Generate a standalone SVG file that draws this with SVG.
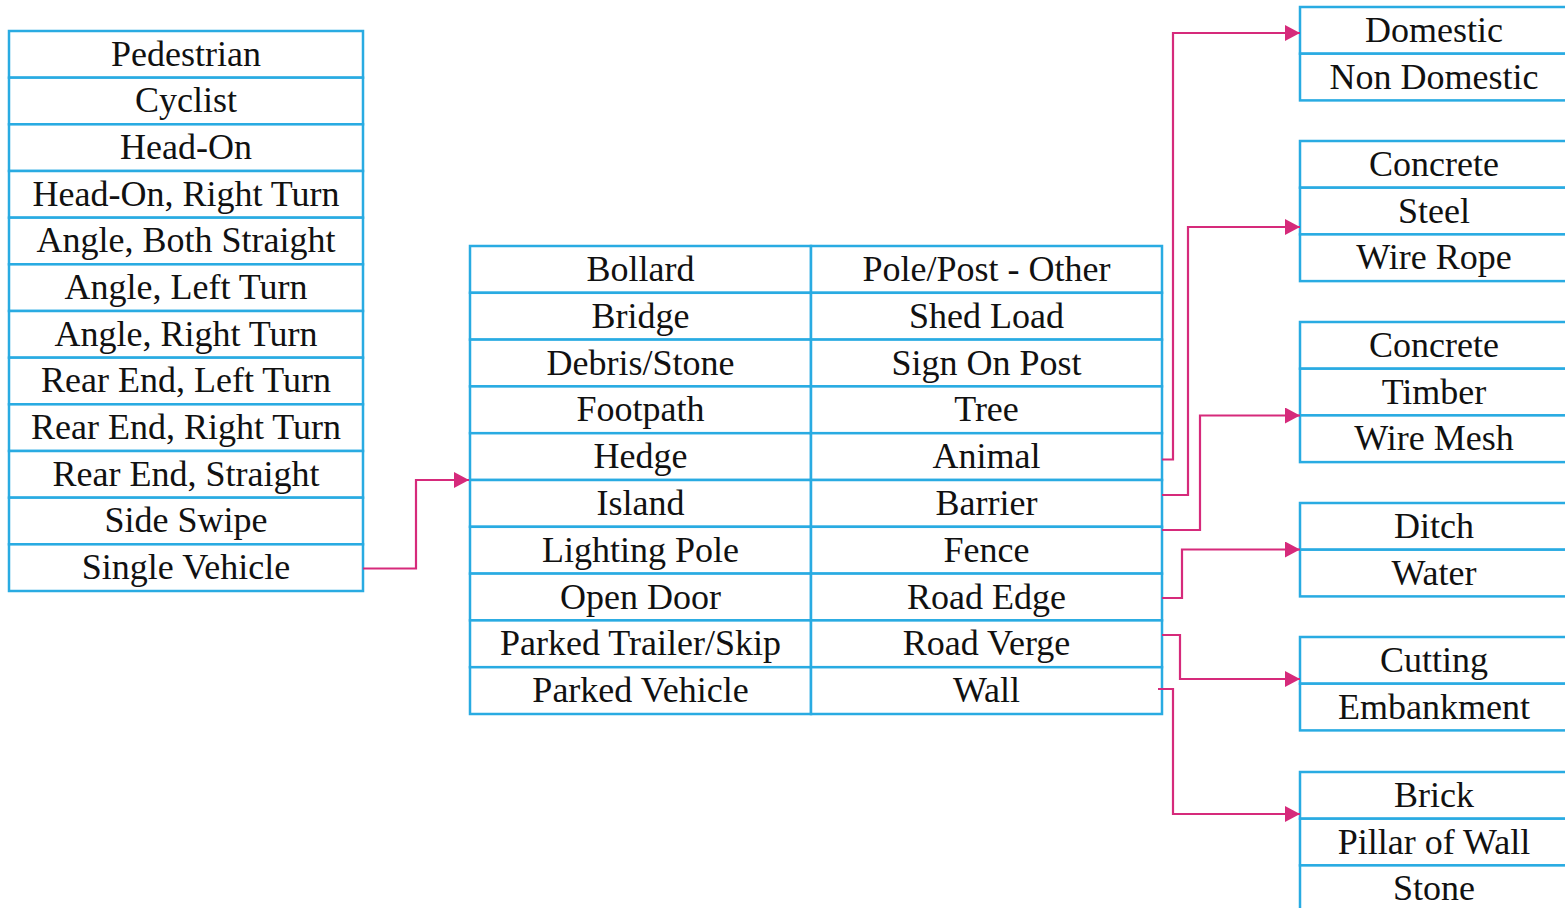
<svg xmlns="http://www.w3.org/2000/svg" width="1565" height="908" viewBox="0 0 1565 908" font-family="Liberation Serif, Times New Roman, Times, serif">
<style>
.c{fill:#fff;stroke:#29ABE2;stroke-width:2.5}
.t{font-size:36px;fill:#111;text-anchor:middle}
.e{fill:none;stroke:#D62A7B;stroke-width:2.2}
</style>
<defs>
<marker id="ah" markerUnits="userSpaceOnUse" markerWidth="16" markerHeight="16" refX="15" refY="8" orient="auto">
<path d="M0,0 L15,8 L0,16 z" fill="#D62A7B"/>
</marker>
</defs>
<g id="left-table">
<rect class="c" x="9" y="31" width="354" height="46.67"/>
<rect class="c" x="9" y="77.67" width="354" height="46.67"/>
<rect class="c" x="9" y="124.33" width="354" height="46.67"/>
<rect class="c" x="9" y="171" width="354" height="46.67"/>
<rect class="c" x="9" y="217.67" width="354" height="46.67"/>
<rect class="c" x="9" y="264.33" width="354" height="46.67"/>
<rect class="c" x="9" y="311" width="354" height="46.67"/>
<rect class="c" x="9" y="357.67" width="354" height="46.67"/>
<rect class="c" x="9" y="404.33" width="354" height="46.67"/>
<rect class="c" x="9" y="451" width="354" height="46.67"/>
<rect class="c" x="9" y="497.67" width="354" height="46.67"/>
<rect class="c" x="9" y="544.33" width="354" height="46.67"/>
<text class="t" x="186" y="65.5">Pedestrian</text>
<text class="t" x="186" y="112.2">Cyclist</text>
<text class="t" x="186" y="158.8">Head-On</text>
<text class="t" x="186" y="205.5">Head-On, Right Turn</text>
<text class="t" x="186" y="252.2">Angle, Both Straight</text>
<text class="t" x="186" y="298.8">Angle, Left Turn</text>
<text class="t" x="186" y="345.5">Angle, Right Turn</text>
<text class="t" x="186" y="392.2">Rear End, Left Turn</text>
<text class="t" x="186" y="438.8">Rear End, Right Turn</text>
<text class="t" x="186" y="485.5">Rear End, Straight</text>
<text class="t" x="186" y="532.2">Side Swipe</text>
<text class="t" x="186" y="578.8">Single Vehicle</text>
</g>
<g id="middle-table">
<rect class="c" x="470" y="246" width="341" height="46.8"/>
<rect class="c" x="470" y="292.8" width="341" height="46.8"/>
<rect class="c" x="470" y="339.6" width="341" height="46.8"/>
<rect class="c" x="470" y="386.4" width="341" height="46.8"/>
<rect class="c" x="470" y="433.2" width="341" height="46.8"/>
<rect class="c" x="470" y="480" width="341" height="46.8"/>
<rect class="c" x="470" y="526.8" width="341" height="46.8"/>
<rect class="c" x="470" y="573.6" width="341" height="46.8"/>
<rect class="c" x="470" y="620.4" width="341" height="46.8"/>
<rect class="c" x="470" y="667.2" width="341" height="46.8"/>
<rect class="c" x="811" y="246" width="351" height="46.8"/>
<rect class="c" x="811" y="292.8" width="351" height="46.8"/>
<rect class="c" x="811" y="339.6" width="351" height="46.8"/>
<rect class="c" x="811" y="386.4" width="351" height="46.8"/>
<rect class="c" x="811" y="433.2" width="351" height="46.8"/>
<rect class="c" x="811" y="480" width="351" height="46.8"/>
<rect class="c" x="811" y="526.8" width="351" height="46.8"/>
<rect class="c" x="811" y="573.6" width="351" height="46.8"/>
<rect class="c" x="811" y="620.4" width="351" height="46.8"/>
<rect class="c" x="811" y="667.2" width="351" height="46.8"/>
<text class="t" x="640.5" y="281">Bollard</text>
<text class="t" x="640.5" y="327.8">Bridge</text>
<text class="t" x="640.5" y="374.6">Debris/Stone</text>
<text class="t" x="640.5" y="421.4">Footpath</text>
<text class="t" x="640.5" y="468.2">Hedge</text>
<text class="t" x="640.5" y="515">Island</text>
<text class="t" x="640.5" y="561.8">Lighting Pole</text>
<text class="t" x="640.5" y="608.6">Open Door</text>
<text class="t" x="640.5" y="655.4">Parked Trailer/Skip</text>
<text class="t" x="640.5" y="702.2">Parked Vehicle</text>
<text class="t" x="986.5" y="281">Pole/Post - Other</text>
<text class="t" x="986.5" y="327.8">Shed Load</text>
<text class="t" x="986.5" y="374.6">Sign On Post</text>
<text class="t" x="986.5" y="421.4">Tree</text>
<text class="t" x="986.5" y="468.2">Animal</text>
<text class="t" x="986.5" y="515">Barrier</text>
<text class="t" x="986.5" y="561.8">Fence</text>
<text class="t" x="986.5" y="608.6">Road Edge</text>
<text class="t" x="986.5" y="655.4">Road Verge</text>
<text class="t" x="986.5" y="702.2">Wall</text>
</g>
<g id="box-building">
<rect class="c" x="1300" y="7" width="268" height="46.7"/>
<rect class="c" x="1300" y="53.7" width="268" height="46.7"/>
<text class="t" x="1434" y="42">Domestic</text>
<text class="t" x="1434" y="88.7">Non Domestic</text>
</g>
<g id="box-barrier">
<rect class="c" x="1300" y="141" width="268" height="46.7"/>
<rect class="c" x="1300" y="187.7" width="268" height="46.7"/>
<rect class="c" x="1300" y="234.4" width="268" height="46.7"/>
<text class="t" x="1434" y="176">Concrete</text>
<text class="t" x="1434" y="222.7">Steel</text>
<text class="t" x="1434" y="269.4">Wire Rope</text>
</g>
<g id="box-fence">
<rect class="c" x="1300" y="322" width="268" height="46.7"/>
<rect class="c" x="1300" y="368.7" width="268" height="46.7"/>
<rect class="c" x="1300" y="415.4" width="268" height="46.7"/>
<text class="t" x="1434" y="357">Concrete</text>
<text class="t" x="1434" y="403.7">Timber</text>
<text class="t" x="1434" y="450.4">Wire Mesh</text>
</g>
<g id="box-road-edge">
<rect class="c" x="1300" y="503" width="268" height="46.7"/>
<rect class="c" x="1300" y="549.7" width="268" height="46.7"/>
<text class="t" x="1434" y="538">Ditch</text>
<text class="t" x="1434" y="584.7">Water</text>
</g>
<g id="box-road-verge">
<rect class="c" x="1300" y="637" width="268" height="46.7"/>
<rect class="c" x="1300" y="683.7" width="268" height="46.7"/>
<text class="t" x="1434" y="672">Cutting</text>
<text class="t" x="1434" y="718.7">Embankment</text>
</g>
<g id="box-wall">
<rect class="c" x="1300" y="772" width="268" height="46.7"/>
<rect class="c" x="1300" y="818.7" width="268" height="46.7"/>
<rect class="c" x="1300" y="865.4" width="268" height="46.7"/>
<text class="t" x="1434" y="807">Brick</text>
<text class="t" x="1434" y="853.7">Pillar of Wall</text>
<text class="t" x="1434" y="900.4">Stone</text>
</g>
<g id="connectors">
<path class="e" d="M363,568.5 H416 V480 H469" marker-end="url(#ah)"/>
<path class="e" d="M1162,459.5 H1173 V33 H1300" marker-end="url(#ah)"/>
<path class="e" d="M1162,495 H1188 V227 H1300" marker-end="url(#ah)"/>
<path class="e" d="M1162,530 H1200 V415.5 H1300" marker-end="url(#ah)"/>
<path class="e" d="M1162,598 H1182 V549.5 H1300" marker-end="url(#ah)"/>
<path class="e" d="M1162,635 H1180 V679 H1300" marker-end="url(#ah)"/>
<path class="e" d="M1158,689 H1173 V814 H1300" marker-end="url(#ah)"/>
</g>
</svg>
